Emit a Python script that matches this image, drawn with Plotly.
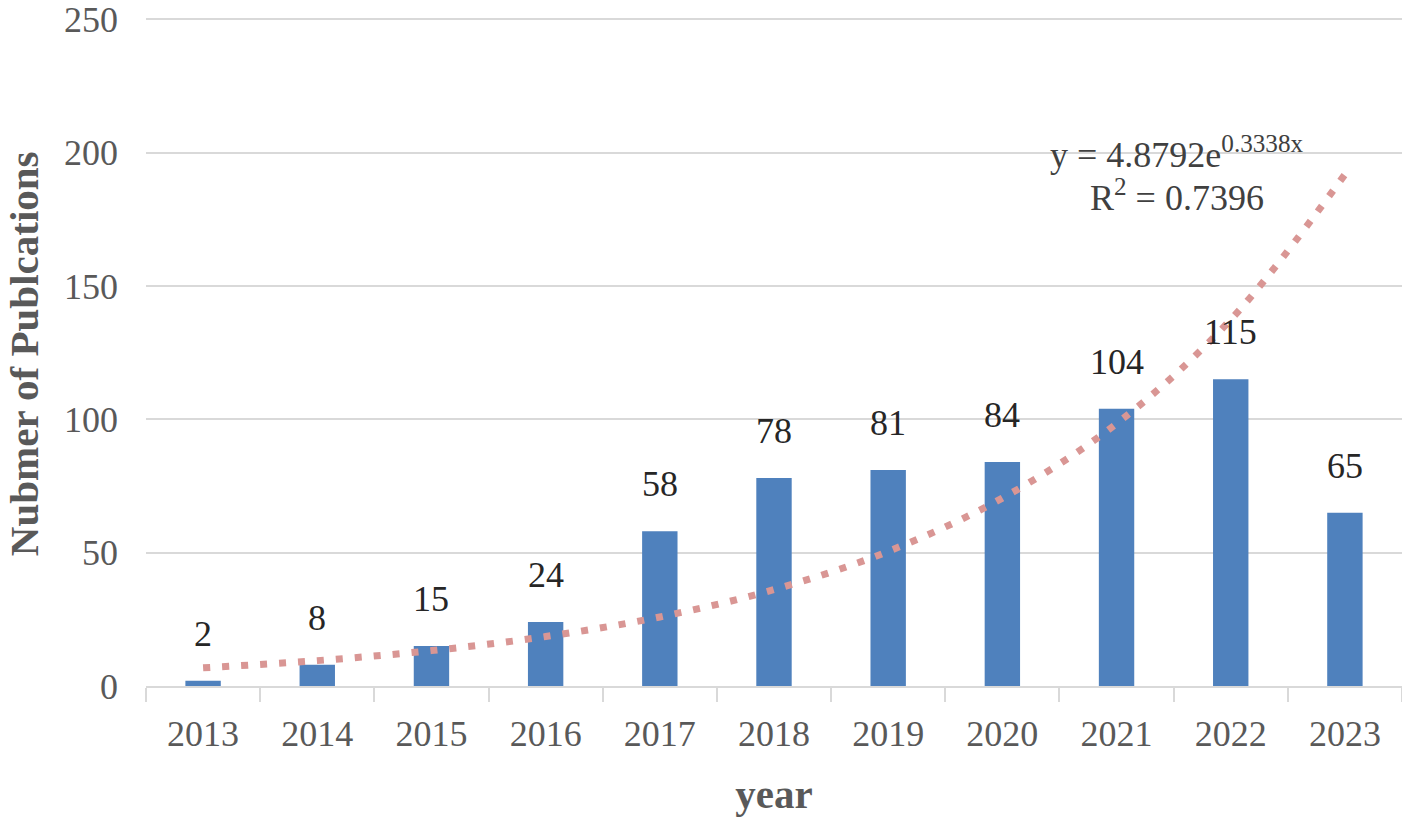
import plotly.graph_objects as go
import numpy as np

# data
years = ["2013", "2014", "2015", "2016", "2017", "2018", "2019", "2020", "2021", "2022", "2023"]
publications = [2, 8, 15, 24, 58, 78, 81, 84, 104, 115, 65]
y_ticks = [0, 50, 100, 150, 200, 250]

# exponential trendline (Excel style: least squares on ln y, x = 1..n)
idx = np.arange(1, len(publications) + 1)
slope, intercept = np.polyfit(idx, np.log(publications), 1)
a = float(np.exp(intercept))
trend = [float(a * np.exp(slope * i)) for i in idx]
log_y = np.log(publications)
fitted_log = np.log(trend)
r2 = float(1 - np.sum((log_y - fitted_log) ** 2) / np.sum((log_y - log_y.mean()) ** 2))

serif = "Liberation Serif, Times New Roman, serif"
gray_text = "#595959"

fig = go.Figure()

fig.add_trace(go.Bar(
    x=years,
    y=publications,
    width=0.31,
    marker=dict(color="#4F81BD", line=dict(width=0)),
    showlegend=False,
))

fig.add_trace(go.Scatter(
    x=years,
    y=trend,
    mode="lines",
    line=dict(color="#D99694", width=7, dash="7px,12px", shape="spline"),
    showlegend=False,
))

# data labels above the bars (category index as x)
for i, v in enumerate(publications):
    fig.add_annotation(
        x=i, y=v, xref="x", yref="y", text=str(v), showarrow=False,
        yanchor="bottom", yshift=25,
        font=dict(family=serif, size=36, color="#262626"),
    )

# trendline equation, placed between the 2021 and 2022 columns
fig.add_annotation(
    x=8.53, y=200, xref="x", yref="y",
    text=f"y = {a:.4f}e<sup>{slope:.4f}x</sup>",
    showarrow=False,
    font=dict(family=serif, size=36, color="#404040"),
)
fig.add_annotation(
    x=8.53, y=184, xref="x", yref="y",
    text=f"R<sup>2</sup> = {r2:.4f}",
    showarrow=False,
    font=dict(family=serif, size=36, color="#404040"),
)

# y axis title as an annotation so it can sit close to the left edge
fig.add_annotation(
    x=-0.097, y=0.497, xref="paper", yref="paper",
    text="<b>Nubmer of Publcations</b>", textangle=-90,
    showarrow=False, xanchor="center", yanchor="middle",
    font=dict(family=serif, size=41, color=gray_text),
)

# page adds an 8px body margin, so the figure is a bit smaller than the window
fig.update_layout(
    width=1394, height=810,
    margin=dict(l=138, r=0, t=10, b=132),
    plot_bgcolor="white",
    paper_bgcolor="white",
    font=dict(family=serif, color=gray_text),
)

fig.update_xaxes(
    type="category",
    categoryorder="array",
    categoryarray=years,
    range=[-0.5, len(years) - 0.5],
    automargin=False,
    tickson="boundaries",
    ticks="outside",
    ticklen=14,
    tickcolor="#D9D9D9",
    tickwidth=2,
    showline=True,
    linecolor="#D9D9D9",
    linewidth=2,
    showgrid=False,
    tickangle=0,
    ticklabelstandoff=15,
    tickfont=dict(family=serif, size=36, color=gray_text),
    title=dict(text="<b>year</b>", font=dict(family=serif, size=41, color=gray_text), standoff=26),
)

fig.update_yaxes(
    range=[0, 250.5],
    tickvals=y_ticks,
    automargin=False,
    showgrid=True,
    gridcolor="#D9D9D9",
    gridwidth=2,
    zeroline=False,
    showline=False,
    ticks="",
    ticklabelstandoff=27,
    ticklabeloverflow="allow",
    tickfont=dict(family=serif, size=36, color=gray_text),
)

fig.write_html("out.html")
